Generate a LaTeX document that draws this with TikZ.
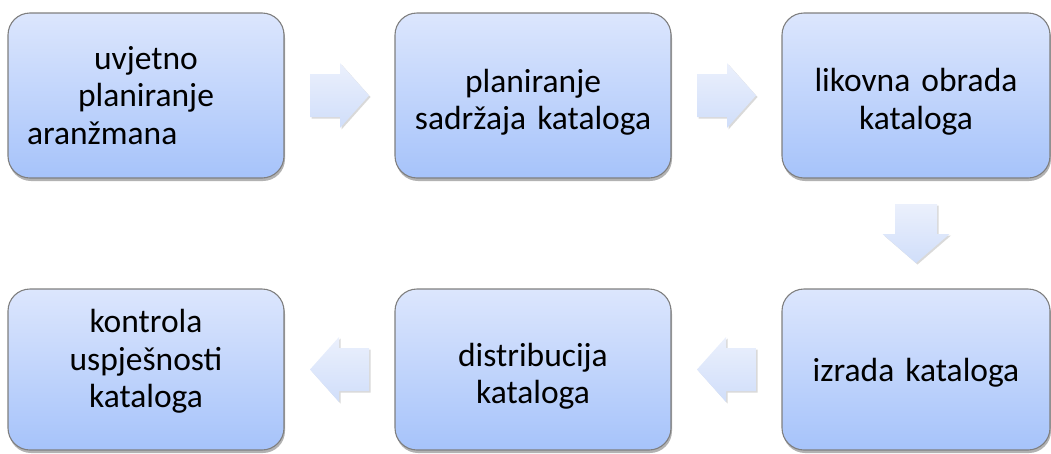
\documentclass[tikz,border=0pt]{standalone}
\usepackage{fontspec}
\setmainfont{Carlito}
\usetikzlibrary{calc, shadows}
\definecolor{boxtop}{HTML}{DCE6FD}
\definecolor{boxbot}{HTML}{A6C3FA}
\definecolor{boxline}{HTML}{7F7F7F}
\definecolor{arrtop}{HTML}{EBF0FC}
\definecolor{arrbot}{HTML}{D0DEFA}
% invisible struts to nudge the text block inside a box
\newcommand{\upstrut}[1]{\rule{0pt}{#1}}
\newcommand{\downstrut}[1]{\rule[-#1]{0pt}{0pt}}

\tikzset{
  flowfill/.style={top color=arrtop, bottom color=arrbot, draw=none,
                   drop shadow={shadow xshift=1.5pt, shadow yshift=-1.5pt,
                                opacity=0.15, fill=black}},
  pics/rightflow/.style={code={
    \path[flowfill] (-29.5,-21.5) -- (0.5,-21.5) -- (0.5,-32.5) -- (29.5,0)
      -- (0.5,32.5) -- (0.5,21.5) -- (-29.5,21.5) -- cycle;}},
  pics/leftflow/.style={code={
    \path[flowfill] (29.5,-21.5) -- (-0.5,-21.5) -- (-0.5,-32.5) -- (-29.5,0)
      -- (-0.5,32.5) -- (-0.5,21.5) -- (29.5,21.5) -- cycle;}},
  pics/downflow/.style={code={
    \path[flowfill] (-21,-29.5) -- (21,-29.5) -- (21,0.5) -- (33.5,0.5)
      -- (0,29.5) -- (-33.5,0.5) -- (-21,0.5) -- cycle;}},
}

\begin{document}
\begin{tikzpicture}[
    x=1pt, y=-1pt,
    stage/.style={rectangle, rounded corners=22pt,
                  draw=boxline, line width=1.1pt,
                  top color=boxtop, bottom color=boxbot,
                  drop shadow={shadow xshift=1pt, shadow yshift=-3pt,
                               opacity=0.3, fill=black},
                  text=black, inner sep=0pt, text width=250pt, align=center,
                  font=\fontsize{33.5}{37.5}\selectfont},
    toprow/.style={stage, minimum width=276pt, minimum height=165pt},
    botrow/.style={stage, minimum width=276pt, minimum height=161pt},
  ]
    \useasboundingbox (0,0) rectangle (1051,453);

    % top row
    \node[toprow] (uvjet)   at (146,95.5) {uvjetno\\planiranje\\\makebox[238pt][l]{aranžmana}};
    \node[toprow] (sadrzaj) at (533,95.5) {\upstrut{37pt}planiranje\\sadržaja kataloga};
    \node[toprow, minimum width=268pt] (likovna) at (916,95.5) {\upstrut{36pt}likovna obrada\\kataloga};

    % bottom row
    \node[botrow] (kontrola) at (146,369.5) {kontrola\\uspješnosti\\kataloga\downstrut{22pt}};
    \node[botrow] (distrib)  at (533,369.5) {\upstrut{37pt}distribucija\\kataloga};
    \node[botrow, minimum width=268pt] (izrada) at (916,369.5) {\upstrut{29pt}izrada kataloga};

    % flow arrows
    \pic at ($(uvjet.east)!0.5!(sadrzaj.west)$) {rightflow};
    \pic at ($(sadrzaj.east)!0.5!(likovna.west)$) {rightflow};
    \pic at ($(likovna.south)!0.5!(izrada.north)$) {downflow};
    \pic at ($(izrada.west)!0.5!(distrib.east)$) {leftflow};
    \pic at ($(distrib.west)!0.5!(kontrola.east)$) {leftflow};
\end{tikzpicture}
\end{document}
